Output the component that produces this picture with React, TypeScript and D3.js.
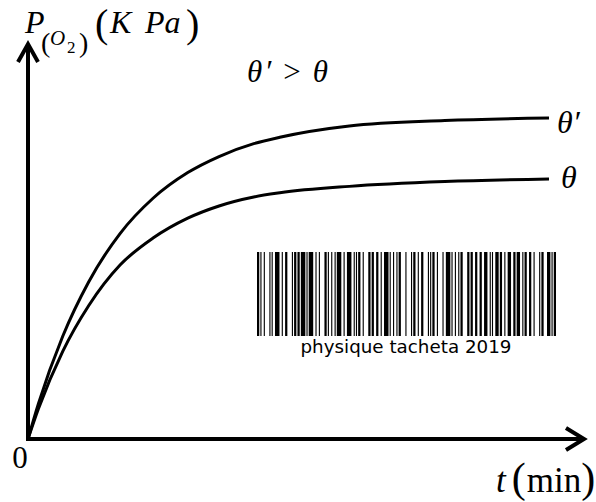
import React, { useEffect, useRef } from "react";
import * as d3 from "d3";

// time (min) and O2 pressure
const times = [0, 0.3, 1, 1.75, 2.65, 3.6, 4.6, 5.5, 6.5, 7.25, 9.25, 12, 15];
const pHigh = [0, 1.1, 3.2, 4.9, 6.4, 7.5, 8.3, 8.8, 9.2, 9.4, 9.75, 9.92, 10.0]; // θ'
const pLow = [0, 0.94, 2.73, 4.16, 5.42, 6.26, 6.88, 7.26, 7.54, 7.67, 7.87, 8.02, 8.1]; // θ

const barcodeText = "physique tacheta 2019";

// Code 128 widths (bar, space, bar, space, bar, space)
const code128 = [
  "212222", "222122", "222221", "121223", "121322", "131222", "122213", "122312", "132212", "221213",
  "221312", "231212", "112232", "122132", "122231", "113222", "123122", "123221", "223211", "221132",
  "221231", "213212", "223112", "312131", "311222", "321122", "321221", "312212", "322112", "322211",
  "212123", "212321", "232121", "111323", "131123", "131321", "112313", "132113", "132311", "211313",
  "231113", "231311", "112133", "112331", "132131", "113123", "113321", "133121", "313121", "211331",
  "231131", "213113", "213311", "213131", "311123", "311321", "331121", "312113", "312311", "332111",
  "314111", "221411", "431111", "111224", "111422", "121124", "121421", "141122", "141221", "112214",
  "112412", "122114", "122411", "142112", "142211", "241211", "221114", "413111", "241112", "134111",
  "111242", "121142", "121241", "114212", "124112", "124211", "411212", "421112", "421211", "212141",
  "214121", "412121", "111143", "111341", "131141", "114113", "114311", "411113", "411311", "113141",
  "114131", "311141", "411131", "211412", "211214", "211232", "2331112",
];

function encodeBars(text: string) {
  const codes = [104];
  for (const ch of text) codes.push(ch.charCodeAt(0) - 32);
  let sum = 104;
  codes.slice(1).forEach((c, i) => (sum += c * (i + 1)));
  codes.push(sum % 103);
  codes.push(106);
  const bars: { start: number; width: number }[] = [];
  let pos = 0;
  codes.forEach((c) => {
    code128[c].split("").forEach((w, i) => {
      const n = +w;
      if (i % 2 === 0) bars.push({ start: pos, width: n });
      pos += n;
    });
  });
  return { bars, total: pos };
}

const App = () => {
  const ref = useRef<SVGSVGElement>(null);

  useEffect(() => {
    const svg = d3.select(ref.current);
    svg.selectAll("*").remove();

    const x = d3.scaleLinear().domain([0, 15]).range([28, 549]);
    const y = d3.scaleLinear().domain([0, 10]).range([439, 118]);
    const x0 = x(0);
    const y0 = y(0);

    const serif = "'Liberation Serif', 'Times New Roman', serif";

    // axes
    const axes = svg.append("g").attr("stroke", "#000").attr("stroke-width", 4).attr("fill", "none");
    axes.append("line").attr("x1", x0).attr("y1", y0 + 2).attr("x2", x0).attr("y2", 45);
    axes.append("line").attr("x1", x0 - 2).attr("y1", y0).attr("x2", 584).attr("y2", y0);
    axes.append("path")
      .attr("stroke-linejoin", "miter")
      .attr("d", `M${x0 - 10},62 L${x0},44 L${x0 + 10},62`);
    axes.append("path")
      .attr("stroke-linejoin", "miter")
      .attr("d", `M566,${y0 - 11} L584,${y0} L566,${y0 + 11}`);

    // curves
    const line = d3.line<number>()
      .x((_, i) => x(times[i]))
      .y((d) => y(d))
      .curve(d3.curveMonotoneX);
    [pHigh, pLow].forEach((series) => {
      svg.append("path")
        .attr("d", line(series))
        .attr("fill", "none")
        .attr("stroke", "#000")
        .attr("stroke-width", 3);
    });

    // barcode
    const { bars, total } = encodeBars(barcodeText);
    const bx = d3.scaleLinear().domain([0, total]).range([257, 556]);
    svg.append("g")
      .selectAll("rect")
      .data(bars)
      .join("rect")
      .attr("x", (d) => bx(d.start))
      .attr("y", 252)
      .attr("width", (d) => bx(d.start + d.width) - bx(d.start))
      .attr("height", 84)
      .attr("fill", "#000");
    svg.append("text")
      .attr("x", 406)
      .attr("y", 353)
      .attr("text-anchor", "middle")
      .attr("font-family", "'DejaVu Sans', Verdana, sans-serif")
      .attr("font-size", 18)
      .attr("textLength", 211)
      .attr("lengthAdjust", "spacingAndGlyphs")
      .text(barcodeText);

    const t = svg.append("g").attr("font-family", serif).attr("fill", "#000");

    // y label  P(O2)(K Pa)
    t.append("text").attr("x", 25).attr("y", 33).attr("font-size", 32).attr("font-style", "italic").text("P");
    t.append("text").attr("x", 41).attr("y", 52).attr("font-size", 28).text("(");
    t.append("text").attr("x", 50).attr("y", 45).attr("font-size", 21).attr("font-style", "italic").text("O");
    t.append("text").attr("x", 67).attr("y", 53).attr("font-size", 17).text("2");
    t.append("text").attr("x", 79).attr("y", 52).attr("font-size", 28).text(")");
    t.append("text").attr("x", 95).attr("y", 37).attr("font-size", 40).text("(");
    t.append("text").attr("x", 110).attr("y", 33).attr("font-size", 32).attr("font-style", "italic").text("K");
    t.append("text").attr("x", 145).attr("y", 33).attr("font-size", 32).attr("font-style", "italic").text("Pa");
    t.append("text").attr("x", 186).attr("y", 37).attr("font-size", 40).text(")");

    // condition
    const cond = t.append("text").attr("x", 247).attr("y", 82).attr("font-size", 31)
      .attr("textLength", 81).attr("lengthAdjust", "spacing");
    cond.append("tspan").attr("font-style", "italic").text("θ′");
    cond.append("tspan").text(" > ");
    cond.append("tspan").attr("font-style", "italic").text("θ");

    // curve labels
    t.append("text").attr("x", 557).attr("y", 133).attr("font-size", 32).attr("font-style", "italic").text("θ′");
    t.append("text").attr("x", 561).attr("y", 188).attr("font-size", 32).attr("font-style", "italic").text("θ");

    // origin and x label
    t.append("text").attr("x", 20).attr("y", 468).attr("font-size", 31).attr("text-anchor", "middle").text("0");
    const xl = t.append("text").attr("x", 496).attr("y", 492).attr("font-size", 35);
    xl.append("tspan").attr("font-style", "italic").text("t");
    xl.append("tspan").attr("dx", 6).attr("font-size", 42).text("(");
    xl.append("tspan").attr("dx", 1).text("min");
    xl.append("tspan").attr("font-size", 42).text(")");
  }, []);

  return (
    <svg
      ref={ref}
      width={596}
      height={502}
      style={{ position: "absolute", left: 0, top: 0, background: "#fff" }}
    />
  );
};

export default App;
